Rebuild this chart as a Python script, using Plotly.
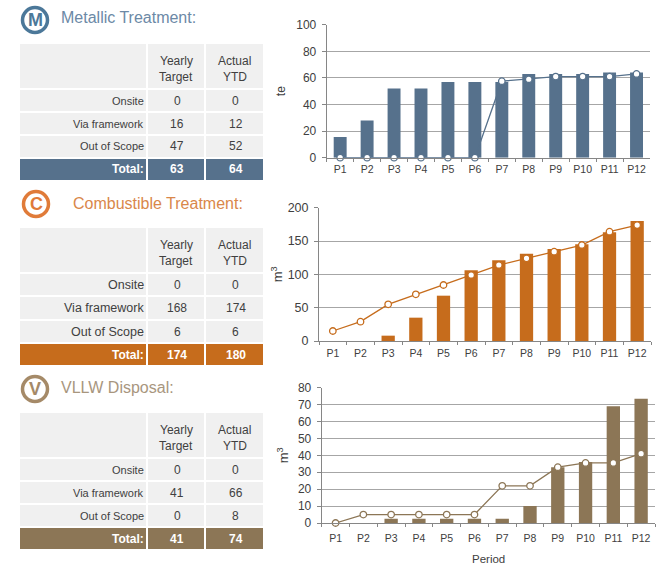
import plotly.graph_objects as go

periods = ["P1","P2","P3","P4","P5","P6","P7","P8","P9","P10","P11","P12"]

metallic_bars = [15.5,28,52,52,57,57,57,63,63,63,64,64]
metallic_line = [0,0,0,0,0,0,57.5,59,61,61,61,63]
combustible_bars = [0,0,8,35,68,106,121,131,138,145,163,180]
combustible_line = [15,29,55,70,84,99,114,124,134,144,164,174]
vllw_bars = [0,0,2.5,2.5,2.5,2.5,2.5,10,33,36,69,73.5]
vllw_line = [0,5,5,5,5,5,22,22,33,35.5,35.5,41]

row_labels = ["Onsite","Via framework","Out of Scope"]
metallic_target = ["0","16","47","63"]
metallic_actual = ["0","12","52","64"]
combustible_target = ["0","168","6","174"]
combustible_actual = ["0","174","6","180"]
vllw_target = ["0","41","0","41"]
vllw_actual = ["0","66","8","74"]

BLUE, ORANGE, BROWN = "#56718C", "#C66C1C", "#8C7656"
W, H = 664, 564
px = lambda x: x / W
py = lambda y: 1 - y / H
TXT = "#404040"
FONT = "Liberation Sans"

fig = go.Figure()
shapes, ann = [], []

def rect(x0, y0, x1, y1, color):
    shapes.append(dict(type="rect", xref="paper", yref="paper", x0=px(x0), x1=px(x1),
                       y0=py(y1), y1=py(y0), fillcolor=color, line_width=0, layer="below"))

def text(x, y, s, size=12, color=TXT, anchor="center", bold=False, angle=0):
    ann.append(dict(x=px(x), y=py(y), xref="paper", yref="paper", text=f"<b>{s}</b>" if bold else s,
                    showarrow=False, xanchor=anchor, yanchor="middle", textangle=angle,
                    font=dict(family=FONT, size=size, color=color), borderpad=0, borderwidth=0))

def table(rows, target, actual, color, label_size):
    cols = [(20, 146), (148, 204), (206, 263)]
    hy0, hy1 = rows[0]
    for c in cols:
        rect(c[0], hy0, c[1], hy1, "#F0F0F0")
    text(176, hy0 + 17, "Yearly", 12)
    text(176, hy0 + 33, "Target", 12)
    text(234.5, hy0 + 17, "Actual", 12)
    text(234.5, hy0 + 33, "YTD", 12)
    for i, lab in enumerate(row_labels + ["Total:"]):
        y0, y1 = rows[i + 1]
        total = i == 3
        fill = color if total else "#F0F0F0"
        tc = "#FFFFFF" if total else TXT
        for c in cols:
            rect(c[0], y0, c[1], y1, fill)
        ym = (y0 + y1) / 2
        text(144, ym, lab, 12 if total else label_size, tc, "right", total)
        text(177, ym, target[i], 12, tc, bold=total)
        text(235.5, ym, actual[i], 12, tc, bold=total)

def icon(cx, cy, letter, color):
    r = 12.5
    shapes.append(dict(type="circle", xref="paper", yref="paper", x0=px(cx - r), x1=px(cx + r),
                       y0=py(cy + r), y1=py(cy - r), line=dict(color=color, width=3.5),
                       fillcolor="#FFFFFF"))
    text(cx, cy, letter, 18, color, bold=True)

table([(44,88),(90,111),(113,134),(136,157),(159,180)], metallic_target, metallic_actual, BLUE, 11)
table([(228,272),(274,295),(297,319),(321,342),(344,365)], combustible_target, combustible_actual, ORANGE, 12.5)
table([(413,457),(459,480),(482,503),(505,526),(528,549)], vllw_target, vllw_actual, BROWN, 11)

icon(35, 20, "M", "#4C7899")
icon(36, 204, "C", "#E07B39")
icon(35, 389, "V", "#A58A68")
text(61, 18, "Metallic Treatment:", 16, "#6C89A6", "left")
text(73, 204, "Combustible Treatment:", 16, "#D9874A", "left")
text(61, 387, "VLLW Disposal:", 16, "#A8967E", "left")

charts = [
    (metallic_bars, metallic_line, BLUE, "te", [0,100], 20, (326.7,650), (24.7,157.7), 12, 281, 12, 2),
    (combustible_bars, combustible_line, ORANGE, "m<sup>3</sup>", [0,200], 50, (319,651), (207.7,341), 12.5, 277, 13, 2),
    (vllw_bars, vllw_line, BROWN, "m<sup>3</sup>", [0,80], 10, (321.7,655), (387.7,523), 12, 283, 13, 5),
]
for i, (bars, line, col, yt, rng, dt, xd, yd, ysize, ytx, ytsize, xoff) in enumerate(charts, start=1):
    xa, ya = f"x{i}", f"y{i}"
    fig.add_trace(go.Bar(x=periods, y=bars, marker=dict(color=col, line_width=0), width=0.48,
                         xaxis=xa, yaxis=ya, showlegend=False))
    fig.add_trace(go.Scatter(x=periods, y=line, mode="lines+markers", line=dict(color=col, width=1.3),
                             marker=dict(size=6.5, color="#FFFFFF", line=dict(color=col, width=1.3)),
                             xaxis=xa, yaxis=ya, showlegend=False, cliponaxis=False))
    fig.update_layout({
        f"xaxis{i}": dict(domain=[px(xd[0]), px(xd[1])], anchor=ya, type="category", tickson="boundaries",
                          ticks="outside", ticklen=3, tickcolor="#868686", showline=True, linecolor="#868686",
                          showgrid=False, tickfont=dict(family=FONT, size=10.5, color=TXT),
                          tickangle=0, range=[-0.5, 11.5], automargin=False, ticklabelstandoff=xoff),
        f"yaxis{i}": dict(domain=[py(yd[1]), py(yd[0])], anchor=xa, range=rng, dtick=dt, ticks="outside",
                          ticklen=4, tickcolor="#868686", showline=True, linecolor="#868686",
                          showgrid=True, gridcolor="#A6A6A6", gridwidth=1.3, zeroline=False,
                          tickfont=dict(family=FONT, size=ysize, color=TXT), automargin=False,
                          ticklabelstandoff=3),
    })
    text(ytx, (yd[0] + yd[1]) / 2, yt, ytsize, TXT, angle=-90)

text(488, 559, "Period", 11.5)

fig.update_layout(width=W, height=H, margin=dict(l=0, r=0, t=0, b=0), paper_bgcolor="#FFFFFF",
                  plot_bgcolor="#FFFFFF", shapes=shapes, annotations=ann, bargap=0.5)
fig.write_html("out.html", config={"displayModeBar": False},
               post_script="document.body.style.margin='0';document.documentElement.style.overflow='hidden';")
